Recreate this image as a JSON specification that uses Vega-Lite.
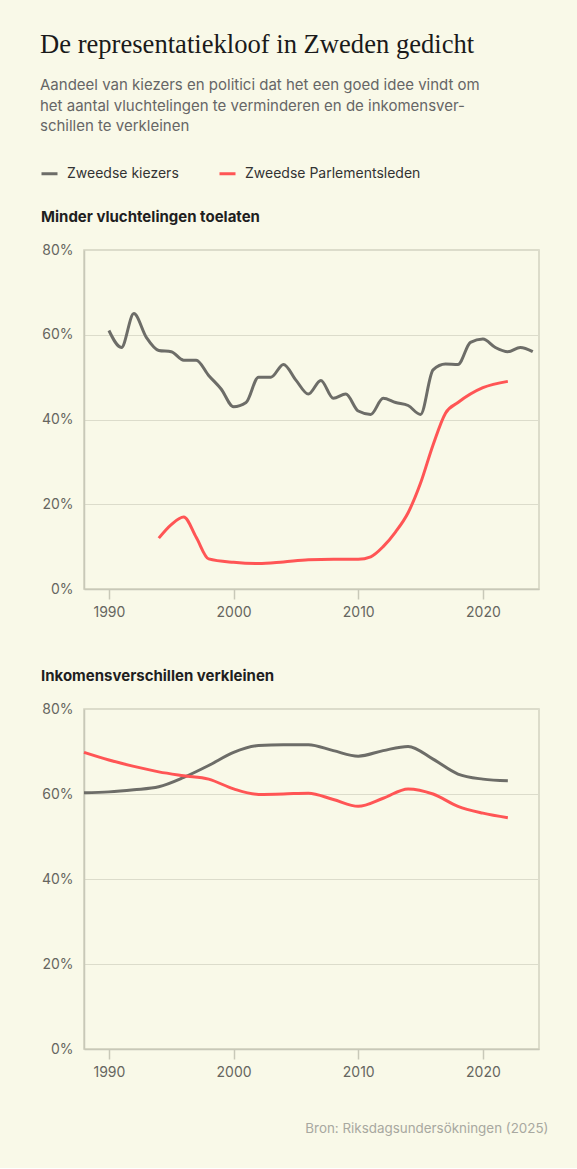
{
  "$schema": "https://vega.github.io/schema/vega-lite/v6.json",
  "background": "#f9f9e8",
  "padding": {"left": 40, "top": 31, "right": 30, "bottom": 32},
  "title": {
    "text": "De representatiekloof in Zweden gedicht",
    "subtitle": ["Aandeel van kiezers en politici dat het een goed idee vindt om", "het aantal vluchtelingen te verminderen en de inkomensver-", "schillen te verkleinen"],
    "anchor": "start",
    "frame": "group",
    "dx": -44,
    "font": "Liberation Serif",
    "fontSize": 26.6,
    "fontWeight": "normal",
    "color": "#1a1a1a",
    "subtitleFont": "Inter",
    "subtitleFontSize": 15,
    "subtitleColor": "#666666",
    "subtitleLineHeight": 20.3,
    "subtitlePadding": 20,
    "offset": 30
  },
  "datasets": {
    "all": [
      {"panel": "v", "groep": "Zweedse kiezers", "jaar": 1990, "waarde": 61},
      {"panel": "v", "groep": "Zweedse kiezers", "jaar": 1991, "waarde": 57},
      {"panel": "v", "groep": "Zweedse kiezers", "jaar": 1992, "waarde": 65},
      {"panel": "v", "groep": "Zweedse kiezers", "jaar": 1993, "waarde": 59.4},
      {"panel": "v", "groep": "Zweedse kiezers", "jaar": 1994, "waarde": 56.3},
      {"panel": "v", "groep": "Zweedse kiezers", "jaar": 1995, "waarde": 56},
      {"panel": "v", "groep": "Zweedse kiezers", "jaar": 1996, "waarde": 54},
      {"panel": "v", "groep": "Zweedse kiezers", "jaar": 1997, "waarde": 54},
      {"panel": "v", "groep": "Zweedse kiezers", "jaar": 1998, "waarde": 50.4},
      {"panel": "v", "groep": "Zweedse kiezers", "jaar": 1999, "waarde": 47.2},
      {"panel": "v", "groep": "Zweedse kiezers", "jaar": 2000, "waarde": 43},
      {"panel": "v", "groep": "Zweedse kiezers", "jaar": 2001, "waarde": 44},
      {"panel": "v", "groep": "Zweedse kiezers", "jaar": 2002, "waarde": 50},
      {"panel": "v", "groep": "Zweedse kiezers", "jaar": 2003, "waarde": 50},
      {"panel": "v", "groep": "Zweedse kiezers", "jaar": 2004, "waarde": 53},
      {"panel": "v", "groep": "Zweedse kiezers", "jaar": 2005, "waarde": 49.3},
      {"panel": "v", "groep": "Zweedse kiezers", "jaar": 2006, "waarde": 46},
      {"panel": "v", "groep": "Zweedse kiezers", "jaar": 2007, "waarde": 49.2},
      {"panel": "v", "groep": "Zweedse kiezers", "jaar": 2008, "waarde": 45},
      {"panel": "v", "groep": "Zweedse kiezers", "jaar": 2009, "waarde": 46},
      {"panel": "v", "groep": "Zweedse kiezers", "jaar": 2010, "waarde": 42},
      {"panel": "v", "groep": "Zweedse kiezers", "jaar": 2011, "waarde": 41.2},
      {"panel": "v", "groep": "Zweedse kiezers", "jaar": 2012, "waarde": 45},
      {"panel": "v", "groep": "Zweedse kiezers", "jaar": 2013, "waarde": 44},
      {"panel": "v", "groep": "Zweedse kiezers", "jaar": 2014, "waarde": 43.3},
      {"panel": "v", "groep": "Zweedse kiezers", "jaar": 2015, "waarde": 41.2},
      {"panel": "v", "groep": "Zweedse kiezers", "jaar": 2016, "waarde": 51.7},
      {"panel": "v", "groep": "Zweedse kiezers", "jaar": 2017, "waarde": 53.1},
      {"panel": "v", "groep": "Zweedse kiezers", "jaar": 2018, "waarde": 53},
      {"panel": "v", "groep": "Zweedse kiezers", "jaar": 2019, "waarde": 58.2},
      {"panel": "v", "groep": "Zweedse kiezers", "jaar": 2020, "waarde": 59},
      {"panel": "v", "groep": "Zweedse kiezers", "jaar": 2021, "waarde": 57},
      {"panel": "v", "groep": "Zweedse kiezers", "jaar": 2022, "waarde": 56},
      {"panel": "v", "groep": "Zweedse kiezers", "jaar": 2023, "waarde": 57},
      {"panel": "v", "groep": "Zweedse kiezers", "jaar": 2024, "waarde": 56},
      {"panel": "v", "groep": "Zweedse Parlementsleden", "jaar": 1994, "waarde": 12},
      {"panel": "v", "groep": "Zweedse Parlementsleden", "jaar": 1995, "waarde": 15.2},
      {"panel": "v", "groep": "Zweedse Parlementsleden", "jaar": 1996, "waarde": 17},
      {"panel": "v", "groep": "Zweedse Parlementsleden", "jaar": 1997, "waarde": 12.2},
      {"panel": "v", "groep": "Zweedse Parlementsleden", "jaar": 1998, "waarde": 7.1},
      {"panel": "v", "groep": "Zweedse Parlementsleden", "jaar": 2000, "waarde": 6.3},
      {"panel": "v", "groep": "Zweedse Parlementsleden", "jaar": 2002, "waarde": 6},
      {"panel": "v", "groep": "Zweedse Parlementsleden", "jaar": 2004, "waarde": 6.4},
      {"panel": "v", "groep": "Zweedse Parlementsleden", "jaar": 2006, "waarde": 6.9},
      {"panel": "v", "groep": "Zweedse Parlementsleden", "jaar": 2008, "waarde": 7},
      {"panel": "v", "groep": "Zweedse Parlementsleden", "jaar": 2010, "waarde": 7},
      {"panel": "v", "groep": "Zweedse Parlementsleden", "jaar": 2011, "waarde": 7.6},
      {"panel": "v", "groep": "Zweedse Parlementsleden", "jaar": 2012, "waarde": 10},
      {"panel": "v", "groep": "Zweedse Parlementsleden", "jaar": 2013, "waarde": 13.5},
      {"panel": "v", "groep": "Zweedse Parlementsleden", "jaar": 2014, "waarde": 18},
      {"panel": "v", "groep": "Zweedse Parlementsleden", "jaar": 2015, "waarde": 25},
      {"panel": "v", "groep": "Zweedse Parlementsleden", "jaar": 2016, "waarde": 34},
      {"panel": "v", "groep": "Zweedse Parlementsleden", "jaar": 2017, "waarde": 41.5},
      {"panel": "v", "groep": "Zweedse Parlementsleden", "jaar": 2018, "waarde": 44},
      {"panel": "v", "groep": "Zweedse Parlementsleden", "jaar": 2020, "waarde": 47.5},
      {"panel": "v", "groep": "Zweedse Parlementsleden", "jaar": 2022, "waarde": 49},
      {"panel": "i", "groep": "Zweedse kiezers", "jaar": 1988, "waarde": 60.3},
      {"panel": "i", "groep": "Zweedse kiezers", "jaar": 1990, "waarde": 60.5},
      {"panel": "i", "groep": "Zweedse kiezers", "jaar": 1992, "waarde": 61},
      {"panel": "i", "groep": "Zweedse kiezers", "jaar": 1994, "waarde": 61.7},
      {"panel": "i", "groep": "Zweedse kiezers", "jaar": 1996, "waarde": 63.9},
      {"panel": "i", "groep": "Zweedse kiezers", "jaar": 1998, "waarde": 66.7},
      {"panel": "i", "groep": "Zweedse kiezers", "jaar": 2000, "waarde": 69.8},
      {"panel": "i", "groep": "Zweedse kiezers", "jaar": 2002, "waarde": 71.4},
      {"panel": "i", "groep": "Zweedse kiezers", "jaar": 2004, "waarde": 71.6},
      {"panel": "i", "groep": "Zweedse kiezers", "jaar": 2006, "waarde": 71.6},
      {"panel": "i", "groep": "Zweedse kiezers", "jaar": 2008, "waarde": 70.2},
      {"panel": "i", "groep": "Zweedse kiezers", "jaar": 2010, "waarde": 68.9},
      {"panel": "i", "groep": "Zweedse kiezers", "jaar": 2012, "waarde": 70.2},
      {"panel": "i", "groep": "Zweedse kiezers", "jaar": 2014, "waarde": 71.2},
      {"panel": "i", "groep": "Zweedse kiezers", "jaar": 2016, "waarde": 68.2},
      {"panel": "i", "groep": "Zweedse kiezers", "jaar": 2018, "waarde": 64.7},
      {"panel": "i", "groep": "Zweedse kiezers", "jaar": 2020, "waarde": 63.5},
      {"panel": "i", "groep": "Zweedse kiezers", "jaar": 2022, "waarde": 63.1},
      {"panel": "i", "groep": "Zweedse Parlementsleden", "jaar": 1988, "waarde": 69.8},
      {"panel": "i", "groep": "Zweedse Parlementsleden", "jaar": 1990, "waarde": 68},
      {"panel": "i", "groep": "Zweedse Parlementsleden", "jaar": 1992, "waarde": 66.5},
      {"panel": "i", "groep": "Zweedse Parlementsleden", "jaar": 1994, "waarde": 65.2},
      {"panel": "i", "groep": "Zweedse Parlementsleden", "jaar": 1996, "waarde": 64.3},
      {"panel": "i", "groep": "Zweedse Parlementsleden", "jaar": 1998, "waarde": 63.5},
      {"panel": "i", "groep": "Zweedse Parlementsleden", "jaar": 2000, "waarde": 61.2},
      {"panel": "i", "groep": "Zweedse Parlementsleden", "jaar": 2002, "waarde": 59.9},
      {"panel": "i", "groep": "Zweedse Parlementsleden", "jaar": 2004, "waarde": 60},
      {"panel": "i", "groep": "Zweedse Parlementsleden", "jaar": 2006, "waarde": 60.2},
      {"panel": "i", "groep": "Zweedse Parlementsleden", "jaar": 2008, "waarde": 58.7},
      {"panel": "i", "groep": "Zweedse Parlementsleden", "jaar": 2010, "waarde": 57.1},
      {"panel": "i", "groep": "Zweedse Parlementsleden", "jaar": 2012, "waarde": 59},
      {"panel": "i", "groep": "Zweedse Parlementsleden", "jaar": 2014, "waarde": 61.2},
      {"panel": "i", "groep": "Zweedse Parlementsleden", "jaar": 2016, "waarde": 60},
      {"panel": "i", "groep": "Zweedse Parlementsleden", "jaar": 2018, "waarde": 57.1},
      {"panel": "i", "groep": "Zweedse Parlementsleden", "jaar": 2020, "waarde": 55.5},
      {"panel": "i", "groep": "Zweedse Parlementsleden", "jaar": 2022, "waarde": 54.4}
    ]
  },
  "spacing": 48,
  "vconcat": [
    {
      "width": 455,
      "height": 339,
      "title": {"text": "Minder vluchtelingen toelaten"},
      "data": {"name": "all"},
      "transform": [{"filter": "datum.panel === 'v'"}],
      "mark": {"type": "line", "interpolate": "monotone", "strokeWidth": 3},
      "encoding": {
        "x": {"field": "jaar", "type": "quantitative", "scale": {"domain": [1988, 2024.5], "nice": false, "zero": false}, "axis": {"title": null, "values": [1990, 2000, 2010, 2020], "format": "d"}},
        "y": {"field": "waarde", "type": "quantitative", "scale": {"domain": [0, 80], "nice": false}, "axis": {"title": null, "values": [0, 20, 40, 60, 80], "labelExpr": "datum.value + '%'"}},
        "color": {"field": "groep", "type": "nominal", "scale": {"domain": ["Zweedse kiezers", "Zweedse Parlementsleden"], "range": ["#6d6d68", "#ff5555"]}, "legend": {"title": null, "orient": "none", "direction": "horizontal", "legendX": -44, "legendY": -86}}
      }
    },
    {
      "width": 455,
      "height": 340,
      "title": {"text": "Inkomensverschillen verkleinen"},
      "data": {"name": "all"},
      "transform": [{"filter": "datum.panel === 'i'"}],
      "mark": {"type": "line", "interpolate": "monotone", "strokeWidth": 3},
      "encoding": {
        "x": {"field": "jaar", "type": "quantitative", "scale": {"domain": [1988, 2024.5], "nice": false, "zero": false}, "axis": {"title": "Bron: Riksdagsundersökningen (2025)", "titleX": 464, "titleAlign": "right", "titleColor": "#a8a8a0", "titleFontSize": 13.4, "titleFontWeight": "normal", "titleFont": "Inter", "titlePadding": 42, "values": [1990, 2000, 2010, 2020], "format": "d"}},
        "y": {"field": "waarde", "type": "quantitative", "scale": {"domain": [0, 80], "nice": false}, "axis": {"title": null, "values": [0, 20, 40, 60, 80], "labelExpr": "datum.value + '%'"}},
        "color": {"field": "groep", "type": "nominal", "scale": {"domain": ["Zweedse kiezers", "Zweedse Parlementsleden"], "range": ["#6d6d68", "#ff5555"]}, "legend": {"title": null, "orient": "none", "direction": "horizontal", "legendX": -44, "legendY": -86}}
      }
    }
  ],
  "config": {
    "view": {"stroke": "#d2d2c0", "strokeWidth": 1.5},
    "axis": {
      "labelFont": "Inter",
      "labelFontSize": 14,
      "labelColor": "#666660",
      "domainColor": "#c8c8b8",
      "domainWidth": 1.5,
      "gridColor": "#dcdccb",
      "gridWidth": 1.2,
      "tickColor": "#c8c8b8",
      "tickWidth": 1.5
    },
    "axisX": {"grid": false, "ticks": true, "tickSize": 10, "labelPadding": 6},
    "axisY": {"grid": true, "ticks": false, "labelPadding": 11, "domain": true, "minExtent": 43, "maxExtent": 43},
    "title": {"anchor": "start", "frame": "group", "dx": -43, "font": "Inter", "fontSize": 15, "fontWeight": "bold", "color": "#1f1f1f", "offset": 18},
    "legend": {
      "symbolType": "stroke",
      "symbolSize": 256,
      "symbolStrokeWidth": 3,
      "labelFont": "Inter",
      "labelFontSize": 14,
      "labelColor": "#333333",
      "labelOffset": 8,
      "labelLimit": 400,
      "columnPadding": 34,
      "padding": 0
    }
  }
}
